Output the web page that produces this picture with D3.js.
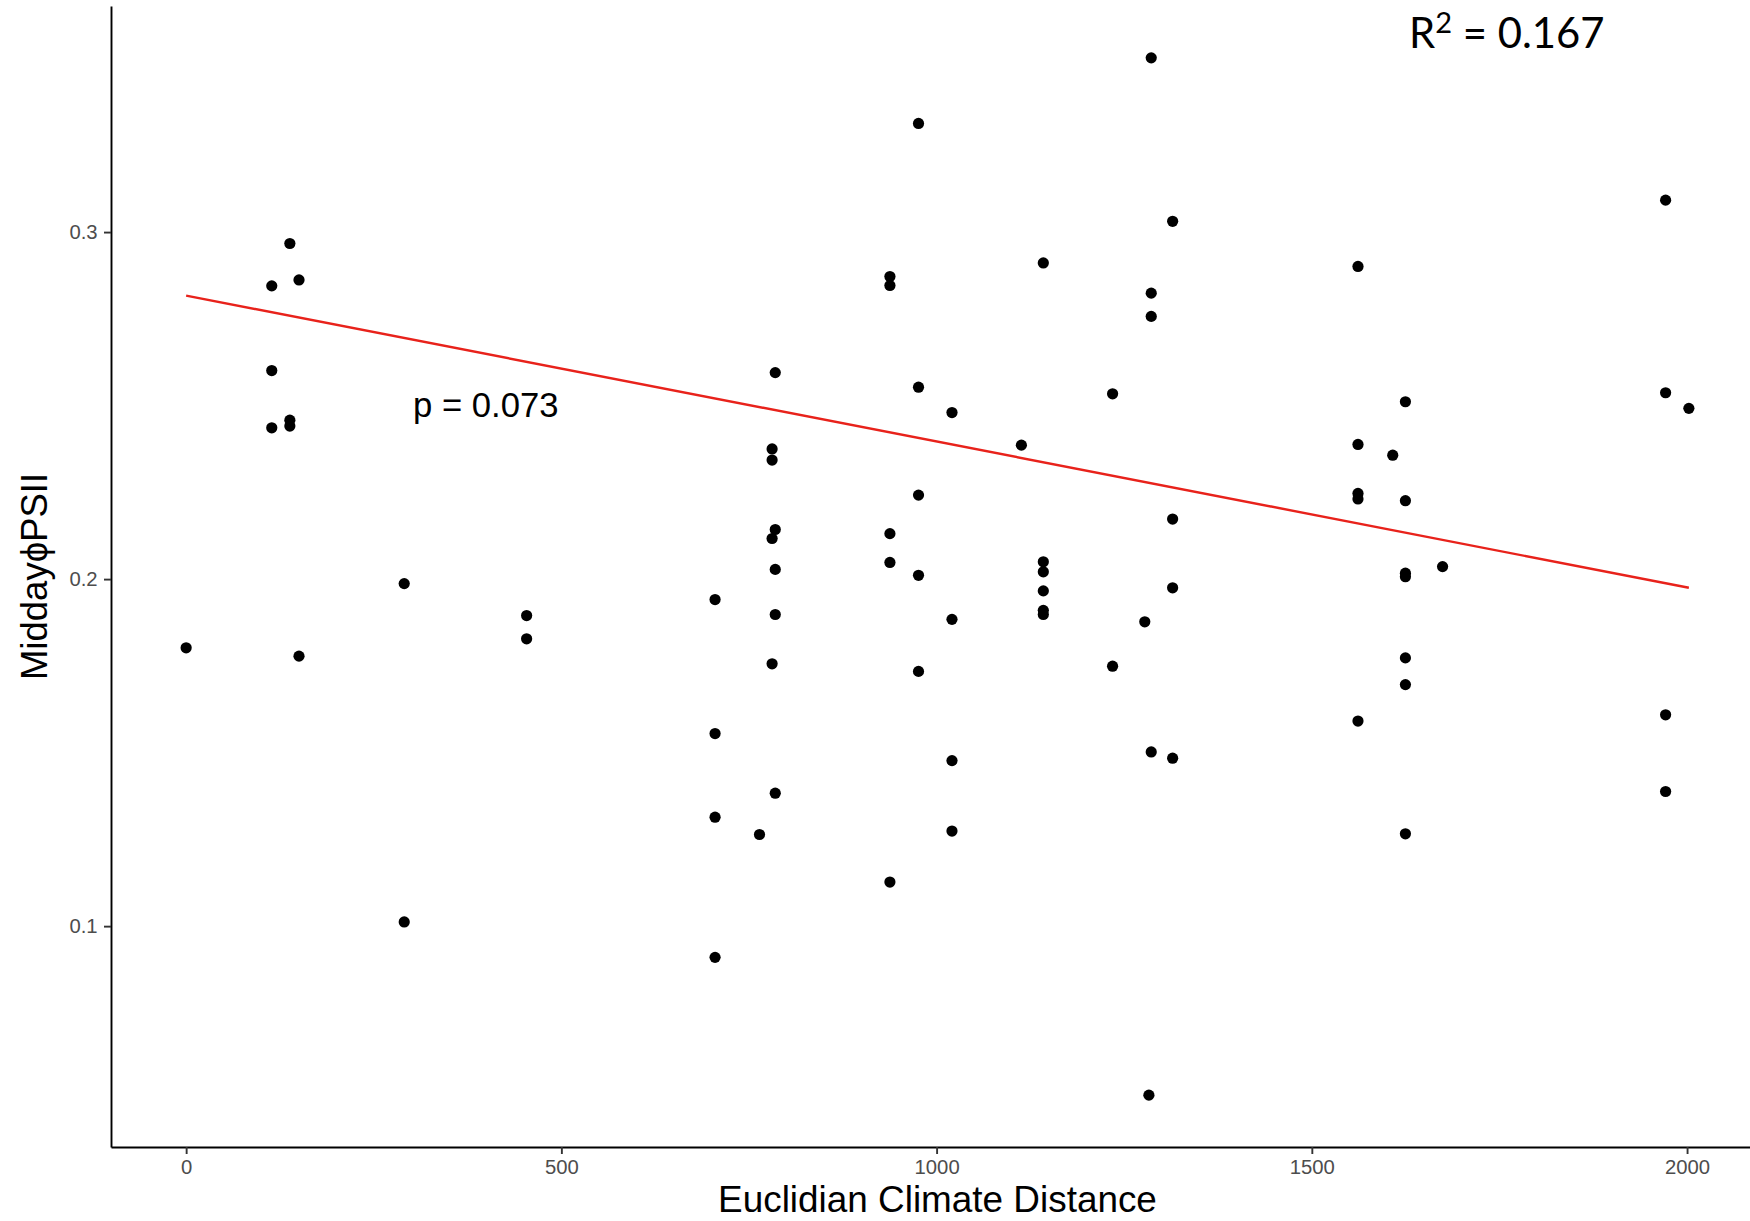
<!DOCTYPE html>
<html>
<head>
<meta charset="utf-8">
<script src="https://cdn.jsdelivr.net/npm/d3@7"></script>
<style>
  html, body { margin: 0; padding: 0; background: #fff; }
  svg { display: block; }
</style>
</head>
<body>
<svg id="chart" width="1750" height="1221"></svg>
<script>
// Euclidian climate distance of each sample
const distance = [
  0, 114.1, 138.2, 150.4, 114.1, 114.1, 138.2, 138.2, 150.4,
  290.6, 290.6,
  453.7, 453.7,
  704.8, 704.8, 704.8, 704.8,
  764.0,
  785.0, 780.8, 780.8, 785.0, 780.8, 785.0, 785.0, 780.8, 785.0,
  937.8, 937.8, 937.8, 937.8, 937.8,
  975.9, 975.9, 975.9, 975.9, 975.9,
  1020.5, 1020.5, 1020.5, 1020.5,
  1113.0,
  1142.2, 1142.2, 1142.2, 1142.2, 1142.2, 1142.2,
  1234.5, 1234.5,
  1277.4, 1282.9,
  1286.0, 1286.0, 1286.0, 1286.0,
  1314.5, 1314.5, 1314.5, 1314.5,
  1561.5, 1561.5, 1561.5, 1561.5, 1561.5,
  1607.8,
  1624.7, 1624.7, 1624.7, 1624.7, 1624.7, 1624.7, 1624.7,
  1674.2,
  1971.4, 1971.4, 1971.4, 1971.4,
  2002.4
];

// Midday quantum yield of PSII for the same samples
const psii = [
  0.1802, 0.2845, 0.2967, 0.2862, 0.2601, 0.2436, 0.2458, 0.2441, 0.1778,
  0.1987, 0.1012,
  0.1895, 0.1828,
  0.1941, 0.1555, 0.1314, 0.0910,
  0.1264,
  0.2595, 0.2375, 0.2343, 0.2143, 0.2117, 0.2028, 0.1898, 0.1756, 0.1383,
  0.2872, 0.2846, 0.2131, 0.2048, 0.1127,
  0.3313, 0.2553, 0.2242, 0.2011, 0.1734,
  0.2480, 0.1884, 0.1477, 0.1274,
  0.2386,
  0.2911, 0.2050, 0.2021, 0.1966, 0.1910, 0.1898,
  0.2534, 0.1749,
  0.1877, 0.0513,
  0.3502, 0.2824, 0.2757, 0.1502,
  0.3031, 0.2173, 0.1975, 0.1484,
  0.2901, 0.2388, 0.2247, 0.2231, 0.1591,
  0.2357,
  0.2511, 0.2226, 0.2017, 0.2007, 0.1773, 0.1696, 0.1266,
  0.2036,
  0.3092, 0.2537, 0.1609, 0.1388,
  0.2492
];

// Fitted trend: intercept and slope of the reported model
const fitIntercept = 0.2817;
const fitSlope = -0.00004205;

const xTicks = [0, 500, 1000, 1500, 2000];
const yTicks = [0.1, 0.2, 0.3];
const xTitle = "Euclidian Climate Distance";
const yTitle = "Midday\u03D5PSII";
const rSquared = "0.167";
const pValue = "0.073";

const svg = d3.select("#chart");
const panel = { left: 111, right: 1764, top: 6, bottom: 1147 };

// 5% padding around the data range on both axes
function padded(ext, f = 0.05) {
  const d = (ext[1] - ext[0]) * f;
  return [ext[0] - d, ext[1] + d];
}

const x = d3.scaleLinear().domain(padded(d3.extent(distance))).range([panel.left, panel.right]);
const y = d3.scaleLinear().domain(padded(d3.extent(psii))).range([panel.bottom, panel.top]);

const points = distance.map((d, i) => ({ x: d, y: psii[i] }));

// Trend line across the observed distance range
const fitLine = d3.extent(distance).map(v => ({ x: v, y: fitIntercept + fitSlope * v }));

// Points
svg.append("g")
  .selectAll("circle")
  .data(points)
  .join("circle")
  .attr("cx", d => x(d.x))
  .attr("cy", d => y(d.y))
  .attr("r", 5.6)
  .attr("fill", "#000");

// Trend line
svg.append("path")
  .datum(fitLine)
  .attr("fill", "none")
  .attr("stroke", "#e8221b")
  .attr("stroke-width", 2.4)
  .attr("d", d3.line().x(d => x(d.x)).y(d => y(d.y)));

const tickFont = "'Liberation Sans', Arial, sans-serif";

// Axes
const yAxis = svg.append("g")
  .attr("transform", `translate(${panel.left},0)`)
  .call(d3.axisLeft(y).tickValues(yTicks).tickFormat(d3.format(".1f"))
    .tickSize(7).tickSizeOuter(0).tickPadding(6.4));

const xAxis = svg.append("g")
  .attr("transform", `translate(0,${panel.bottom})`)
  .call(d3.axisBottom(x).tickValues(xTicks).tickFormat(d3.format("d"))
    .tickSize(7).tickSizeOuter(0).tickPadding(6));

[xAxis, yAxis].forEach(g => {
  g.select(".domain").attr("stroke", "#000").attr("stroke-width", 1.9);
  g.selectAll(".tick line").attr("stroke", "#333").attr("stroke-width", 1.9);
  g.selectAll(".tick text")
    .attr("fill", "#4d4d4d")
    .style("font-family", tickFont)
    .style("font-size", "20.3px");
});

// Axis titles
svg.append("text")
  .attr("x", (panel.left + panel.right) / 2)
  .attr("y", 1211.5)
  .attr("text-anchor", "middle")
  .style("font-family", tickFont)
  .style("font-size", "36.9px")
  .attr("fill", "#000")
  .text(xTitle);

svg.append("text")
  .attr("transform", `translate(47,${(panel.top + panel.bottom) / 2}) rotate(-90)`)
  .attr("text-anchor", "middle")
  .style("font-family", tickFont)
  .style("font-size", "36.5px")
  .attr("fill", "#000")
  .text(yTitle);

// Annotations
svg.append("text")
  .attr("x", 413)
  .attr("y", 417)
  .style("font-family", tickFont)
  .style("font-size", "34.7px")
  .attr("fill", "#000")
  .text(`p = ${pValue}`);

const r2 = svg.append("text")
  .attr("x", 1409)
  .attr("y", 48.3)
  .style("font-family", "Lato, 'Open Sans', sans-serif")
  .style("font-size", "41.8px")
  .attr("fill", "#000");
r2.append("tspan").text("R");
r2.append("tspan").attr("dy", -15).style("font-size", "29px").text("2");
r2.append("tspan").attr("dy", 15).text(` = ${rSquared}`);
</script>
</body>
</html>
